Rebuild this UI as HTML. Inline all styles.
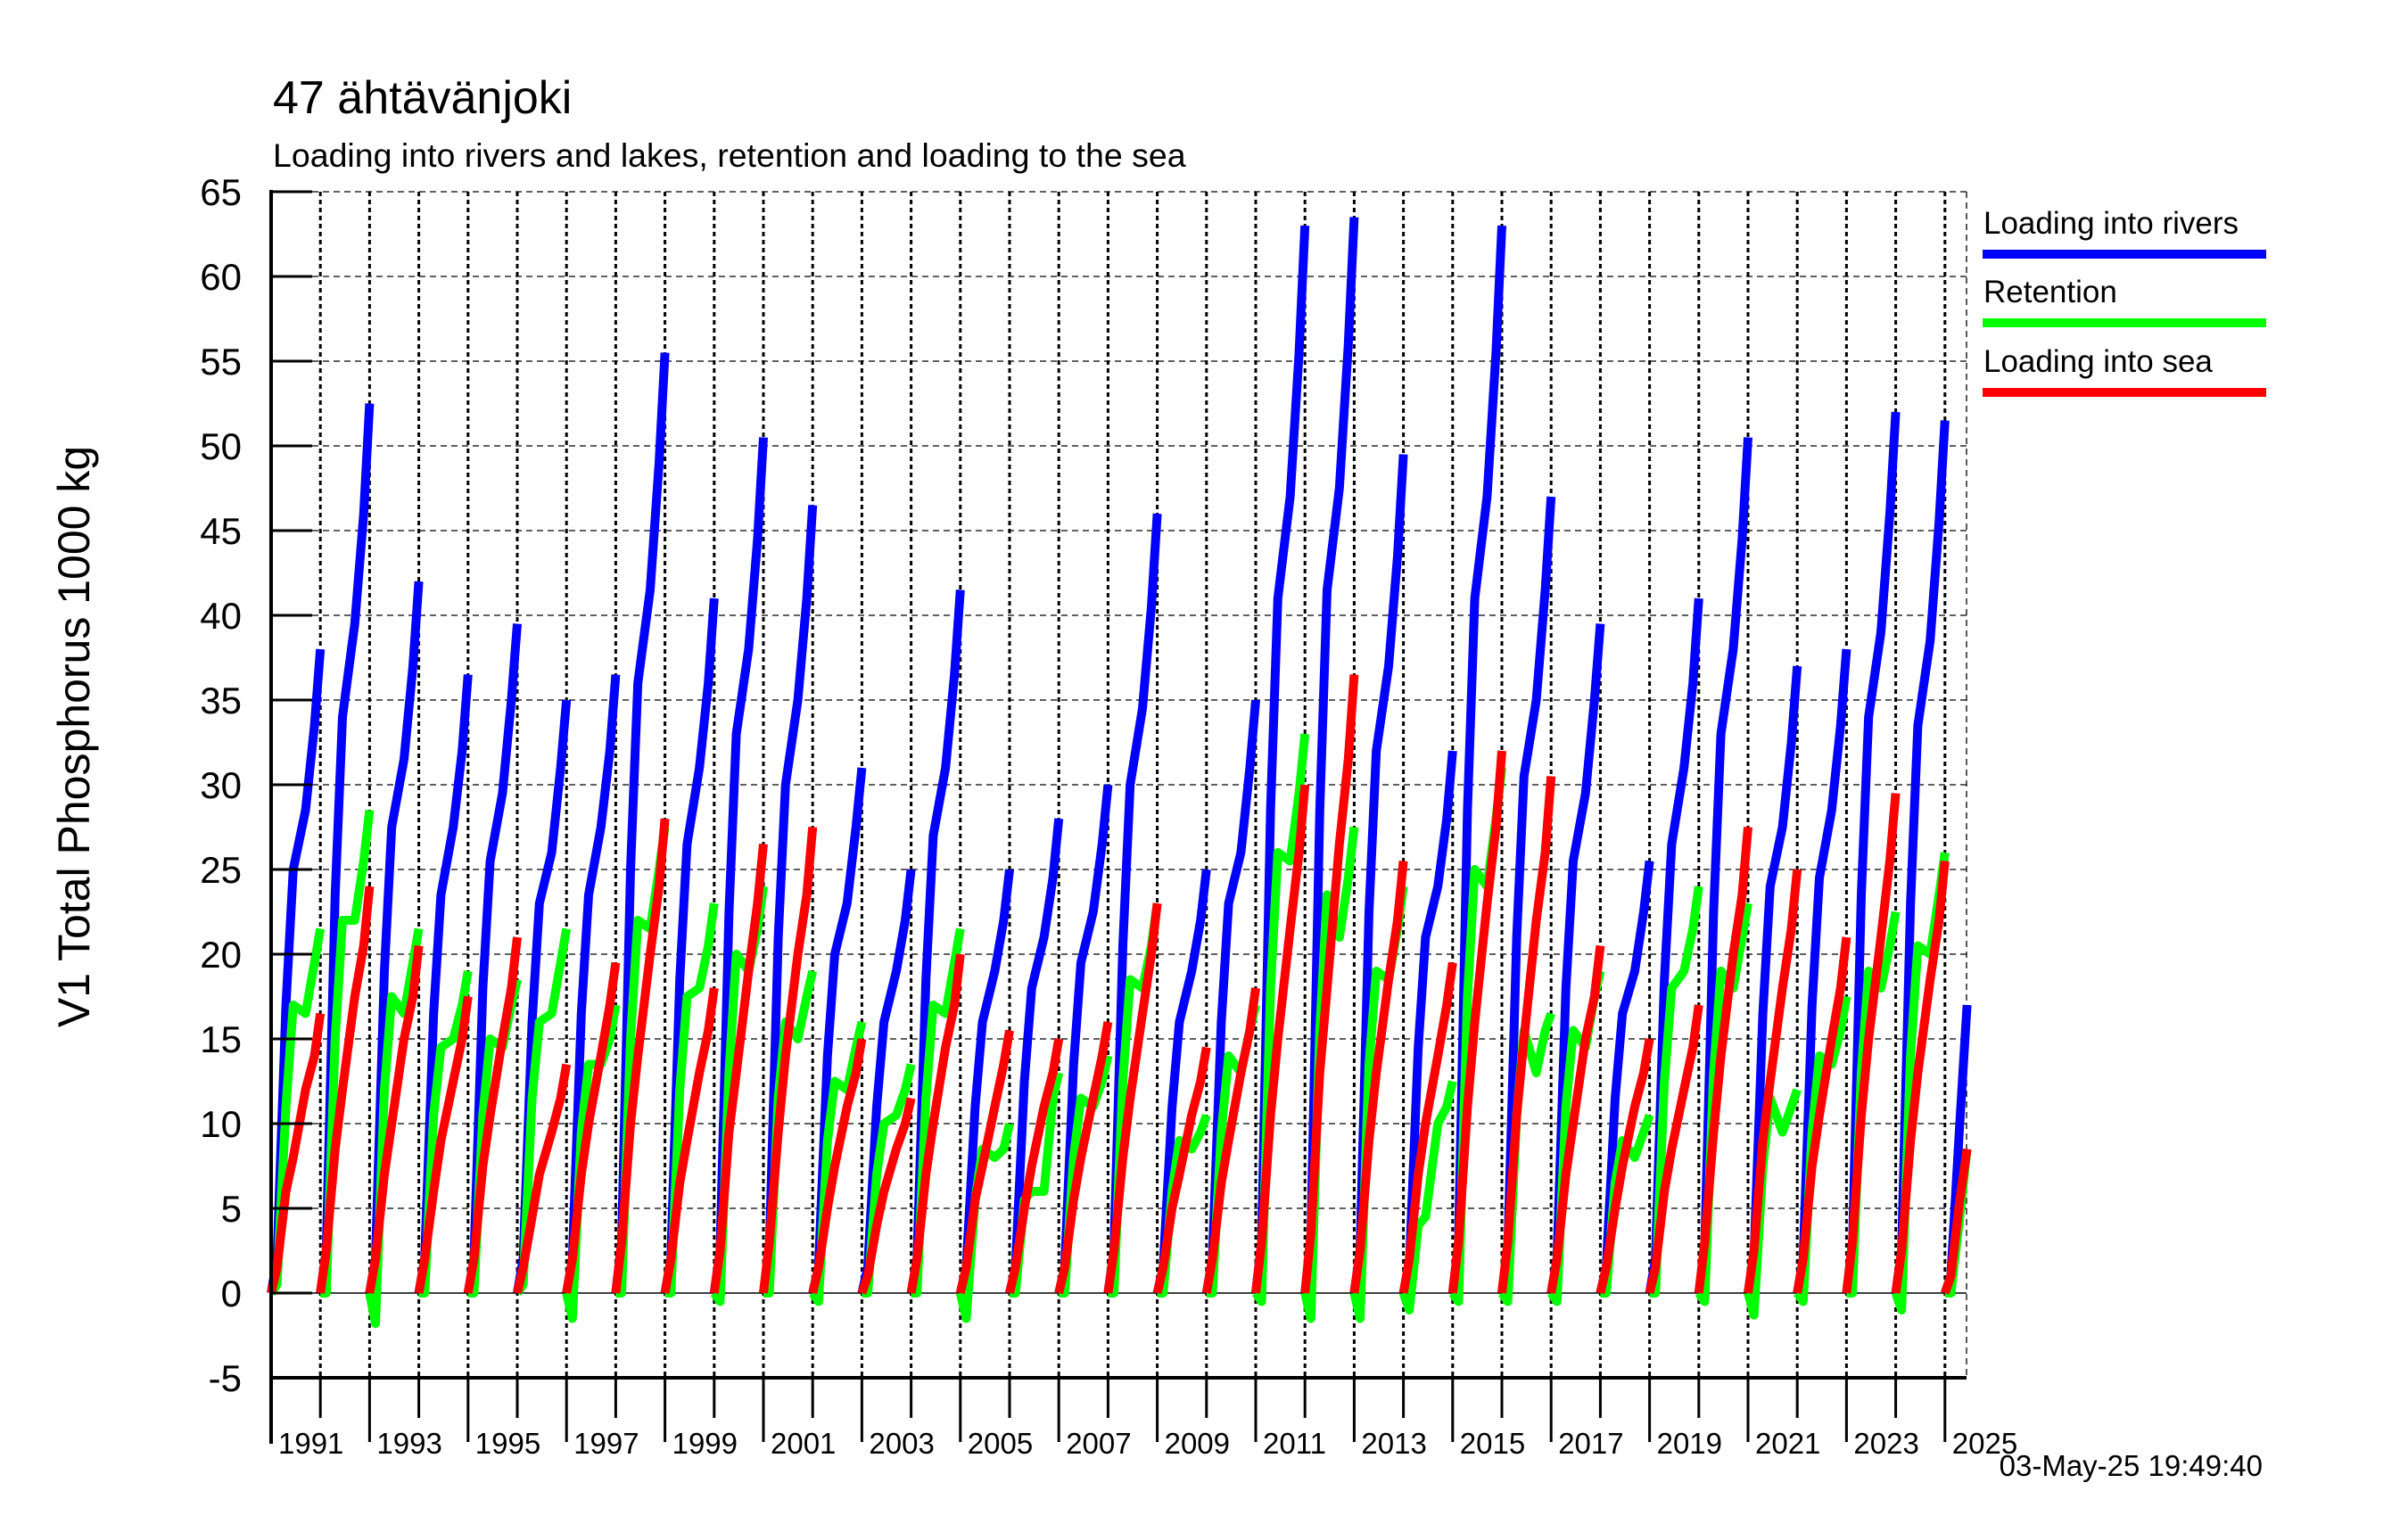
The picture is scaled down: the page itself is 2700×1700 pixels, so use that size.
<!DOCTYPE html>
<html><head><meta charset="utf-8"><style>
html,body{margin:0;padding:0;background:#fff;}
svg{display:block;font-family:"Liberation Sans",Arial,sans-serif;}
</style></head><body>
<svg id="chart" width="2700" height="1700" viewBox="0 0 2700 1700" xmlns="http://www.w3.org/2000/svg">
<rect x="0" y="0" width="2700" height="1700" fill="#fff"/>
<text x="306" y="127" font-size="52">47 ähtävänjoki</text>
<text x="306" y="187" font-size="37.5">Loading into rivers and lakes, retention and loading to the sea</text>
<text transform="translate(100,826) rotate(-90)" text-anchor="middle" font-size="50">V1 Total Phosphorus 1000 kg</text>
<g id="grid"></g>
<g id="series"></g>
<g id="axes"></g>
<g>
<text x="2224" y="262" font-size="35">Loading into rivers</text>
<rect x="2223" y="280" width="318" height="10" fill="#0000ff"/>
<text x="2224" y="339" font-size="35">Retention</text>
<rect x="2223" y="357" width="318" height="10" fill="#00ff00"/>
<text x="2224" y="417" font-size="35">Loading into sea</text>
<rect x="2223" y="435" width="318" height="10" fill="#ff0000"/>
</g>
<text x="2537" y="1655" text-anchor="end" font-size="33">03-May-25 19:49:40</text>
</svg>
<script>
const years=[1991,1992,1993,1994,1995,1996,1997,1998,1999,2000,2001,2002,2003,2004,2005,2006,2007,2008,2009,2010,2011,2012,2013,2014,2015,2016,2017,2018,2019,2020,2021,2022,2023,2024,2025];
const fracs=[0,0.12,0.3,0.45,0.7,0.88,1.0];
const yTicks=[-5,0,5,10,15,20,25,30,35,40,45,50,55,60,65];
const xTickYears=[1991,1992,1993,1994,1995,1996,1997,1998,1999,2000,2001,2002,2003,2004,2005,2006,2007,2008,2009,2010,2011,2012,2013,2014,2015,2016,2017,2018,2019,2020,2021,2022,2023,2024,2025];
const rivers=[
[0,2,17,25,28.5,33.5,38],[0,2.5,23.5,34,39.5,46,52.5],[0,2,19,27.5,31.5,37,42],[0,2,16.5,23.5,27.5,32,36.5],
[0,2,18,25.5,29.5,35,39.5],[0,2,16,23,26,31,35],[0,2,16.5,23.5,27.5,32,36.5],[0,3,25,36,41.5,49,55.5],
[0,2,18.5,26.5,31,36,41],[0,2.5,22.5,33,38,44.5,50.5],[0,2.5,21,30,35,41,46.5],[0,1.5,14,20,23,27.5,31],
[0,1.5,11,16,19,22,25],[0,2,18.5,27,31,36.5,41.5],[0,1.5,11,16,19,22,25],[0,1.5,12.5,18,21,24.5,28],
[0,1.5,13.5,19.5,22.5,26.5,30],[0,2.5,20.5,30,34.5,40.5,46],[0,1.5,11,16,19,22,25],[0,2,16,23,26,31,35],
[0,3,28.5,41,47,55.5,63],[0,3,28.5,41.5,47.5,56,63.5],[0,2.5,22.5,32,37,43.5,49.5],[0,1.5,14.5,21,24,28,32],
[0,3,28.5,41,47,55.5,63],[0,2.5,21,30.5,35,41.5,47],[0,2,18,25.5,29.5,35,39.5],[0,1.5,11.5,16.5,19,22.5,25.5],
[0,2,18.5,26.5,31,36,41],[0,2.5,22.5,33,38,44.5,50.5],[0,2,16.5,24,27.5,32.5,37],[0,2,17,24.5,28.5,33.5,38],
[0,2.5,23.5,34,39,46,52],[0,2.5,23,33.5,38.5,45.5,51.5],[0,1,10,17]];
const retention=[
[0,0.5,11,17,16.5,19.5,21.5],[0,0,15,22,22,25.5,28.5],[0,-1.8,12,17.5,16.5,19.5,21.5],[0,0,10.5,14.5,15,17,19],
[0,0,10.5,15,14.5,17,18.5],[0,0.5,11.5,16,16.5,19.5,21.5],[0,-1.5,9.5,13.5,13.5,15,17],[0,0,15,22,21.5,25,27.5],
[0,0,12,17.5,18,20.5,23],[0,-0.5,13,20,19,21.5,24],[0,0,11.5,16,15,17.5,19],[0,-0.5,9,12.5,12,14.5,16],
[0,0,7,10,10.5,12,13.5],[0,0,11.5,17,16.5,19.5,21.5],[0,-1.5,5.5,8.5,8,8.5,10],[0,0,5.5,6,6,11.5,13],
[0,0,8,11.5,11,12.5,14],[0,0,12.5,18.5,18,20.5,23],[0,0,6,9,8.5,9.5,10.5],[0,0,9.5,14,13,15.5,17],
[0,-0.5,18,26,25.5,29.5,33],[0,-1.5,15.5,23.5,21,24.5,27.5],[0,-1.5,13.5,19,18.5,21.5,24],[0,-1,4,4.5,10,11,12.5],
[0,-0.5,17.5,25,24,28,31],[0,-0.5,10.5,15.5,13,15.5,16.5],[0,-0.5,11,15.5,14.5,17.5,19],[0,0,6.5,9,8,9.5,10.5],
[0,0,12.5,18,19,21.5,24],[0,-0.5,13,19,18,21,23],[0,-1.3,7.5,11.5,9.5,11,12],[0,-0.5,9.5,14,13.5,15.5,17.5],
[0,0,13,19,18,20.5,22.5],[0,-1,14,20.5,20,23.5,26],[0,0,4.5,8.5]];
const sea=[
[0,1.5,6,8,12,14,16.5],[0,2.5,8.5,12,17.5,20.5,24],[0,2,7,10,15,17.5,20.5],[0,2,6,9,12.5,15,17.5],
[0,2,7.5,10.5,15,18,21],[0,1.5,4.5,7,9.5,11.5,13.5],[0,2,7,10,14,17,19.5],[0,3,10,14,20,24,28],
[0,2,6.5,9,13,15.5,18],[0,2.5,9.5,13,19,23,26.5],[0,3,9.5,14,20,23.5,27.5],[0,1.5,5,7.5,11,13,15],
[0,1,4,6,8.5,10,11.5],[0,2,7,10,14.5,17,20],[0,1.5,5.5,7.5,11,13.5,15.5],[0,1.5,5,7.5,11,13,15],
[0,1.5,5.5,8,11.5,14,16],[0,2.5,8,11.5,16.5,20,23],[0,1.5,5,7,10.5,12.5,14.5],[0,2,6.5,9,13,15.5,18],
[0,3,10.5,15,21.5,26,30],[0,3.5,13,18,26.5,31.5,36.5],[0,2.5,9,13,18.5,22,25.5],[0,2,7,10,14,17,19.5],
[0,3,11,16,23,27.5,32],[0,3,10.5,15,22,26,30.5],[0,2,7,10,15,17.5,20.5],[0,1.5,5,7.5,11,13,15],
[0,1.5,6,8.5,12,14.5,17],[0,3,9.5,14,20,23.5,27.5],[0,2.5,9,12.5,18,21.5,25],[0,2,7.5,10.5,15,18,21],
[0,3,10.5,15,21,25.5,29.5],[0,2.5,9,13,18.5,22,25.5],[0,1,5.5,8.5]];

const NS='http://www.w3.org/2000/svg';
const X0=304, PXY=55.2, Y0=1450, PXV=19, RIGHT=2205, TOP=215, BOT=1545;
function xS(t){return X0+(t-1991)*PXY;}
function yS(v){return Y0-v*PXV;}
function mk(tag,attrs,parent){const e=document.createElementNS(NS,tag);for(const k in attrs)e.setAttribute(k,attrs[k]);parent.appendChild(e);return e;}
const grid=document.getElementById('grid'), axes=document.getElementById('axes'), series=document.getElementById('series');

// horizontal grid + y labels
yTicks.forEach(v=>{
  const y=yS(v);
  if(v!==-5){
    const l=mk('line',{x1:350,x2:RIGHT,y1:y,y2:y,stroke:'#000','stroke-width':v===0?1.6:1.3,'stroke-dasharray':v===0?'none':'7,5'},grid);
    
    
  }
  const t=mk('line',{x1:X0,x2:350,y1:y,y2:y,stroke:'#000','stroke-width':3},axes);
  
  
  const tx=mk('text',{x:271,y:y+15,'text-anchor':'end','font-size':42},axes);
  tx.textContent=String(v);
  
  
});
// vertical grid + x ticks
xTickYears.forEach((yr,i)=>{
  const x=xS(yr);
  if(yr>1991){
    const g=mk('line',{x1:x,x2:x,y1:TOP,y2:BOT,stroke:'#000','stroke-width':3,'stroke-dasharray':'5,4'},grid);
    
    
  }
  const odd=(yr%2===1);
  const tk=mk('line',{x1:x,x2:x,y1:BOT,y2:odd?1617:1590,stroke:'#000','stroke-width':3},axes);
  
  
  if(odd){
    const lb=mk('text',{x:x+8,y:1630,'font-size':33},axes);
    lb.textContent=String(yr);
    
    
  }
});
// borders
const rb=mk('line',{x1:RIGHT,x2:RIGHT,y1:TOP,y2:BOT,stroke:'#000','stroke-width':1.3,'stroke-dasharray':'7,5'},grid);


const la=mk('line',{x1:X0,x2:X0,y1:TOP-2,y2:1619,stroke:'#000','stroke-width':4},axes);


const ba=mk('line',{x1:X0,x2:RIGHT,y1:BOT,y2:BOT,stroke:'#000','stroke-width':4},axes);



// series
function drawSeries(arr,color,name){
  arr.forEach((vals,i)=>{
    const yr=years[i];
    let d='';
    vals.forEach((v,j)=>{d+=(j?'L':'M')+xS(yr+fracs[j]).toFixed(1)+','+yS(v).toFixed(1);});
    const p=mk('path',{d:d,fill:'none',stroke:color,'stroke-width':10,'stroke-linejoin':'round','stroke-linecap':'butt'},series);
    
    
  });
}
drawSeries(rivers,'#0000ff','rivers-line');
drawSeries(retention,'#00ff00','retention-line');
drawSeries(sea,'#ff0000','sea-line');
</script>
</body></html>
